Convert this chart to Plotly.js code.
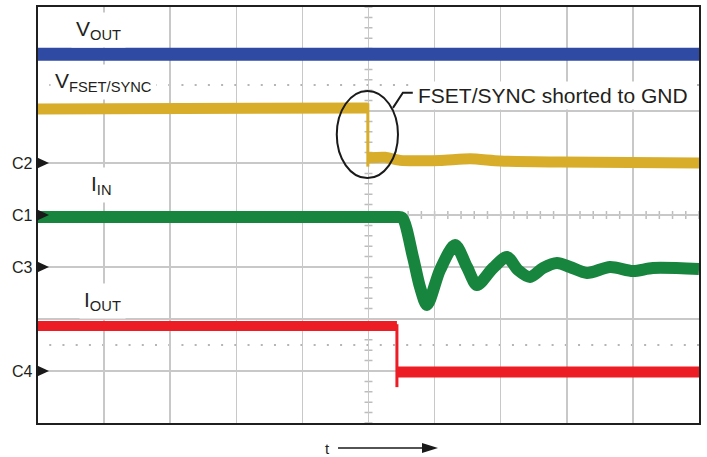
<!DOCTYPE html>
<html>
<head>
<meta charset="utf-8">
<script src="https://cdn.plot.ly/plotly-3.0.1.min.js"></script>
<style>html,body{margin:0;padding:0;background:#fff;}#chart{width:707px;height:457px;}</style>
</head>
<body>
<div id="chart"></div>
<script>
// Oscilloscope capture, units = screen divisions (10 horizontal x 8 vertical)
// VOUT (blue)
const voutT = [0, 2.5, 5, 7.5, 10];
const voutLevel = [7.09, 7.09, 7.08, 7.09, 7.09];

// VFSET/SYNC (yellow): before and after the short
const fsetBeforeT = [0, 2.5, 4.99];
const fsetBeforeLevel = [6.04, 6.05, 6.06];
const fsetAfterT = [4.99, 5.25, 5.48, 6.08, 6.54, 6.99, 7.9, 10];
const fsetAfterLevel = [5.10, 5.11, 5.05, 5.05, 5.08, 5.04, 5.02, 5.0];
const fsetEdgeLevels = [6.15, 4.93];

// IIN (green)
const iinT = [0, 2.5, 5.40, 5.507, 5.673, 5.779, 5.885, 6.082, 6.309, 6.49, 6.641, 6.884, 7.095, 7.262, 7.443, 7.64, 7.852, 8.048, 8.306, 8.654, 9.002, 9.304, 10];
const iinLevel = [3.96, 3.96, 3.96, 3.95, 3.19, 2.615, 2.269, 2.942, 3.423, 3.0, 2.654, 2.981, 3.192, 2.942, 2.808, 2.981, 3.077, 3.0, 2.885, 3.0, 2.923, 2.981, 2.962];

// IOUT (red)
const ioutBeforeT = [0, 2.5, 5.43];
const ioutBeforeLevel = [1.865, 1.86, 1.865];
const ioutAfterT = [5.43, 7.5, 10];
const ioutAfterLevel = [0.98, 0.99, 0.98];
const ioutEdgeLevels = [1.9, 0.69];

// Channel ground markers
const channelNames = ['C1', 'C2', 'C3', 'C4'];
const channelLevels = [4, 5, 3, 1];

// Cursor (dotted) reference levels
const cursorLevels = [6.5, 1.5];

const BLUE = '#2f4aa2', YEL = '#d8ad2a', GRN = '#17853d', RED = '#ec1d25';
const TXT = '#231f20';

const traces = [
  {x: voutT, y: voutLevel, mode: 'lines', line: {color: BLUE, width: 13}},
  {x: fsetBeforeT, y: fsetBeforeLevel, mode: 'lines', line: {color: YEL, width: 11}},
  {x: [fsetBeforeT[fsetBeforeT.length-1], fsetBeforeT[fsetBeforeT.length-1]], y: fsetEdgeLevels, mode: 'lines', line: {color: YEL, width: 3}},
  {x: fsetAfterT, y: fsetAfterLevel, mode: 'lines', line: {color: YEL, width: 11, shape: 'spline', smoothing: 0.6}},
  {x: iinT, y: iinLevel, mode: 'lines', line: {color: GRN, width: 12, shape: 'spline', smoothing: 0.8}},
  {x: ioutBeforeT, y: ioutBeforeLevel, mode: 'lines', line: {color: RED, width: 10}},
  {x: [ioutAfterT[0], ioutAfterT[0]], y: ioutEdgeLevels, mode: 'lines', line: {color: RED, width: 3}},
  {x: ioutAfterT, y: ioutAfterLevel, mode: 'lines', line: {color: RED, width: 11}}
];

const shapes = [];
// center-cross minor ticks
let p = '';
for (let k = 0; k <= 40; k++) { const y = k * 0.2; p += `M4.94,${y}L5.06,${y}`; }
for (let k = 0; k <= 50; k++) { const x = k * 0.2; p += `M${x},3.923L${x},4.077`; }
shapes.push({type: 'path', xref: 'x', yref: 'y', path: p, line: {color: '#bdbdbd', width: 1.5}, layer: 'below'});
// cursor dotted lines
cursorLevels.forEach(l => shapes.push({type: 'line', xref: 'x', yref: 'y', x0: 0.17, x1: 10, y0: l, y1: l,
  line: {color: '#b5b5b5', width: 2, dash: '2px,11.22px'}, layer: 'below'}));
// channel ground markers
channelLevels.forEach(l => shapes.push({type: 'path', xref: 'paper', yref: 'paper', xsizemode: 'pixel', ysizemode: 'pixel',
  xanchor: 0, yanchor: l / 8, path: 'M -2,-6 L 11,0 L -2,6 Z', fillcolor: '#1a1a1a', line: {width: 0}}));
// ellipse callout
shapes.push({type: 'circle', xref: 'x', yref: 'y', x0: 4.52, x1: 5.446, y0: 4.71, y1: 6.385, line: {color: '#1a1a1a', width: 2}});
shapes.push({type: 'path', xref: 'x', yref: 'y', path: 'M5.37,6.06 L5.52,6.35 L5.67,6.35', line: {color: '#1a1a1a', width: 2}});
// time arrow
shapes.push({type: 'path', xref: 'paper', yref: 'paper', xsizemode: 'pixel', ysizemode: 'pixel', xanchor: 0.4539, yanchor: -0.0601,
  path: 'M 0,0 L 86,0', line: {color: '#1a1a1a', width: 1.5}});
shapes.push({type: 'path', xref: 'paper', yref: 'paper', xsizemode: 'pixel', ysizemode: 'pixel', xanchor: 0.4539, yanchor: -0.0601,
  path: 'M 84,-5 L 100,0 L 84,5 Z', fillcolor: '#1a1a1a', line: {width: 0}});

const annotations = [];
channelNames.forEach((n, i) => annotations.push({xref: 'paper', yref: 'y', x: 0, y: channelLevels[i], xanchor: 'right', yanchor: 'middle',
  xshift: -3, text: n, showarrow: false, font: {size: 16, color: TXT}}));
const lab = (x, y, t) => ({xref: 'x', yref: 'y', x: x, y: y, xanchor: 'left', yanchor: 'middle', text: t, showarrow: false,
  bgcolor: '#ffffff', borderpad: 4, font: {size: 21, color: TXT}});
annotations.push(lab(0.5, 7.55, 'V<sub>OUT</sub>'));
annotations.push(lab(0.18, 6.56, 'V<sub>FSET/SYNC</sub>'));
annotations.push(lab(0.72, 4.58, 'I<sub>IN</sub>'));
annotations.push(lab(0.62, 2.35, 'I<sub>OUT</sub>'));
annotations.push({xref: 'x', yref: 'y', x: 5.70, y: 6.3, xanchor: 'left', yanchor: 'middle', text: 'FSET/SYNC shorted to GND',
  showarrow: false, bgcolor: '#ffffff', borderpad: 2, font: {size: 21, color: TXT}});
annotations.push({xref: 'paper', yref: 'paper', x: 0.4448, y: -0.0601, xanchor: 'right', yanchor: 'middle', text: 't',
  showarrow: false, font: {size: 15, color: TXT}});

const axisCommon = {showticklabels: false, ticks: '', zeroline: false, showgrid: true, gridcolor: '#c8c8c8', gridwidth: 1.5,
  dtick: 1, tick0: 0, showline: true, mirror: true, linecolor: '#1f1f1f', linewidth: 2, fixedrange: true};

const layout = {
  width: 707, height: 457,
  margin: {l: 38, r: 8, t: 7, b: 34},
  paper_bgcolor: '#ffffff', plot_bgcolor: '#ffffff',
  font: {family: 'Liberation Sans, Arial, sans-serif', color: TXT},
  showlegend: false,
  xaxis: Object.assign({range: [0, 10]}, axisCommon),
  yaxis: Object.assign({range: [0, 8]}, axisCommon),
  shapes: shapes,
  annotations: annotations
};

Plotly.newPlot('chart', traces, layout, {staticPlot: true});
</script>
</body>
</html>
